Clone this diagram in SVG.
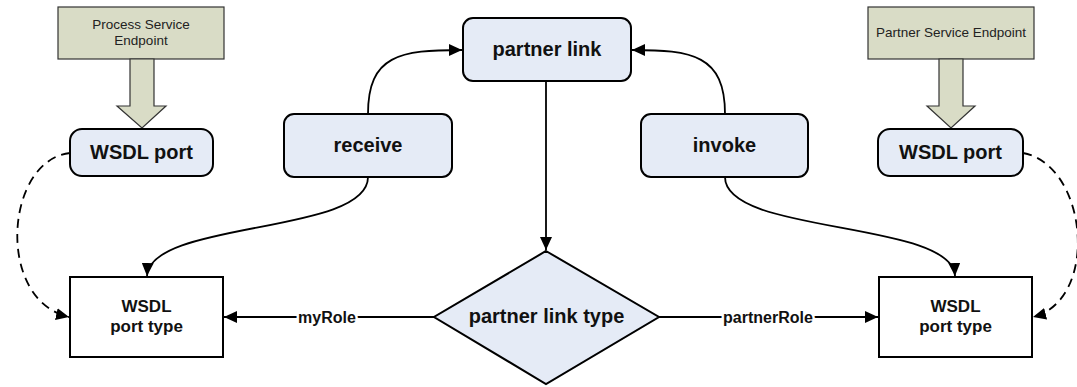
<svg xmlns="http://www.w3.org/2000/svg" width="1077" height="387" viewBox="0 0 1077 387">
  <style>
    .node { fill: #E5EBF6; stroke: #000; stroke-width: 2; }
    .endpoint { fill: #D9DCC6; stroke: #333; stroke-width: 1.2; }
    .box { fill: #fff; stroke: #000; stroke-width: 2; }
    .big { font-family: "Liberation Sans", Arial, sans-serif; font-weight: bold; font-size: 20px; fill: #111; text-anchor: middle; }
    .mid { font-family: "Liberation Sans", Arial, sans-serif; font-weight: bold; font-size: 17px; fill: #111; text-anchor: middle; }
    .small { font-family: "Liberation Sans", Arial, sans-serif; font-size: 13.5px; fill: #222; text-anchor: middle; }
    .role { font-family: "Liberation Sans", Arial, sans-serif; font-weight: bold; font-size: 16px; fill: #111; text-anchor: middle; stroke: #fff; stroke-width: 5; paint-order: stroke; }
    .link { fill: none; stroke: #000; stroke-width: 1.8; marker-end: url(#arrow); }
    .dashed { stroke-dasharray: 9 6; }
  </style>
  <defs>
    <marker id="arrow" markerUnits="userSpaceOnUse" markerWidth="14" markerHeight="12" refX="13" refY="6" orient="auto">
      <path d="M0,0 L13,6 L0,12 Z" fill="#000"/>
    </marker>
  </defs>

  <g id="connectors">
    <!-- receive -> partner link -->
    <path class="link" d="M368,114 C368,55 400,50 462,50"/>
    <!-- invoke -> partner link -->
    <path class="link" d="M725,114 C725,55 692,50 632,50"/>
    <!-- partner link -> partner link type -->
    <path class="link" d="M546,81 L546,250"/>
    <!-- receive -> WSDL port type (left) -->
    <path class="link" d="M368,177 C368,235 150,220 147,276"/>
    <!-- invoke -> WSDL port type (right) -->
    <path class="link" d="M725,177 C725,235 952,220 955,276"/>
    <!-- dashed port bindings -->
    <path class="link dashed" d="M70,153 C5,160 -5,300 69,317"/>
    <path class="link dashed" d="M1023,153 C1088,165 1100,300 1033,317"/>
    <!-- roles -->
    <path class="link" d="M434,317 L224,317"/>
    <path class="link" d="M659,317 L878,317"/>
    <text class="role" x="327" y="322.5">myRole</text>
    <text class="role" x="768" y="322.5">partnerRole</text>
  </g>

  <g id="process-endpoint">
    <rect class="endpoint" x="58" y="7" width="166" height="52"/>
    <polygon class="endpoint" points="130,59 154,59 154,106 166,106 142,128 117,106 130,106"/>
    <text class="small" x="141" y="28.5">Process Service</text>
    <text class="small" x="141" y="44.5">Endpoint</text>
  </g>

  <g id="partner-endpoint">
    <rect class="endpoint" x="868" y="7" width="166" height="52"/>
    <polygon class="endpoint" points="939,59 963,59 963,106 975,106 951,128 927,106 939,106"/>
    <text class="small" x="951" y="37">Partner Service Endpoint</text>
  </g>

  <g id="wsdl-port-left">
    <rect class="node" x="70" y="129" width="143" height="47" rx="12"/>
    <text class="big" x="141.5" y="159">WSDL port</text>
  </g>

  <g id="wsdl-port-right">
    <rect class="node" x="878" y="129" width="145" height="47" rx="12"/>
    <text class="big" x="950.5" y="159">WSDL port</text>
  </g>

  <g id="partner-link">
    <rect class="node" x="463" y="18" width="168" height="63" rx="10"/>
    <text class="big" x="547" y="56">partner link</text>
  </g>

  <g id="receive">
    <rect class="node" x="284" y="114" width="168" height="63" rx="10"/>
    <text class="big" x="368" y="151.5">receive</text>
  </g>

  <g id="invoke">
    <rect class="node" x="641" y="114" width="167" height="63" rx="10"/>
    <text class="big" x="724.5" y="151.5">invoke</text>
  </g>

  <g id="partner-link-type">
    <polygon class="node" points="546,251 659,317 546,384 434,317"/>
    <text class="big" x="546.5" y="323">partner link type</text>
  </g>

  <g id="port-type-left">
    <rect class="box" x="70" y="277" width="153" height="80"/>
    <text class="mid" x="146.5" y="312">WSDL</text>
    <text class="mid" x="146.5" y="332">port type</text>
  </g>

  <g id="port-type-right">
    <rect class="box" x="879" y="277" width="153" height="80"/>
    <text class="mid" x="955.5" y="312">WSDL</text>
    <text class="mid" x="955.5" y="332">port type</text>
  </g>
</svg>
